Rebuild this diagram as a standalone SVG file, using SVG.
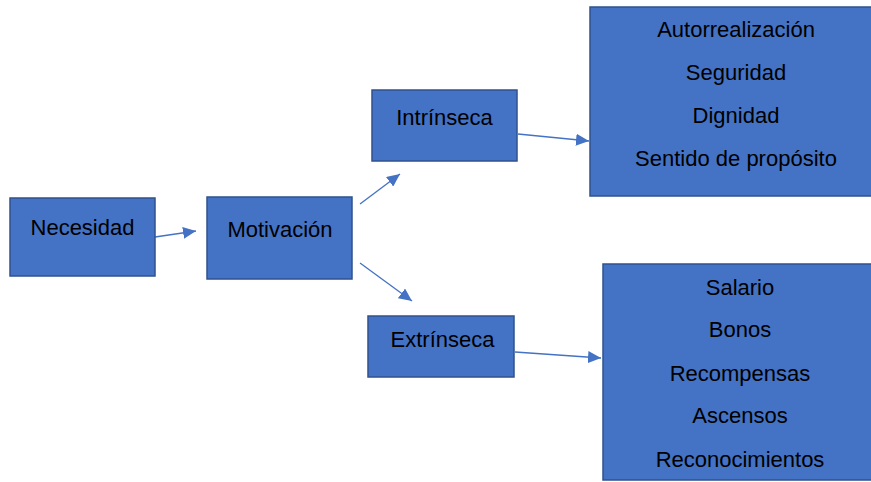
<svg xmlns="http://www.w3.org/2000/svg" width="871" height="482" viewBox="0 0 871 482">
<style>
.box{fill:#4472C4;stroke:#2F528F;stroke-width:1.5}
.t{font-family:"Liberation Sans",Arial,sans-serif;font-size:22px;fill:#000;text-anchor:middle}
.c{stroke:#4472C4;stroke-width:1.3;fill:none;marker-end:url(#ah)}
</style>
<defs>
<marker id="ah" markerUnits="userSpaceOnUse" markerWidth="14" markerHeight="12" refX="13" refY="6" orient="auto">
<path d="M0,0 L13,6 L0,12 Z" fill="#4472C4"/>
</marker>
</defs>
<rect width="871" height="482" fill="#fff"/>
<g id="connectors">
<line class="c" x1="155" y1="237" x2="196" y2="231"/>
<line class="c" x1="360" y1="204" x2="400" y2="174"/>
<line class="c" x1="360" y1="263" x2="412" y2="301"/>
<line class="c" x1="518" y1="134" x2="589" y2="141"/>
<line class="c" x1="515" y1="352" x2="601" y2="358"/>
</g>
<g id="necesidad">
<rect class="box" x="10" y="198" width="145" height="78"/>
<text class="t" x="82.5" y="235">Necesidad</text>
</g>
<g id="motivacion">
<rect class="box" x="207" y="197" width="145" height="82"/>
<text class="t" x="280" y="237">Motivación</text>
</g>
<g id="intrinseca">
<rect class="box" x="372" y="90" width="145" height="71"/>
<text class="t" x="444.5" y="125">Intrínseca</text>
</g>
<g id="extrinseca">
<rect class="box" x="368" y="316" width="146" height="61"/>
<text class="t" x="442.5" y="347">Extrínseca</text>
</g>
<g id="intrinsecas-list">
<rect class="box" x="590" y="7" width="290" height="189"/>
<text class="t" x="736" y="37">Autorrealización</text>
<text class="t" x="736" y="80">Seguridad</text>
<text class="t" x="736" y="123">Dignidad</text>
<text class="t" x="736" y="166">Sentido de propósito</text>
</g>
<g id="extrinsecas-list">
<rect class="box" x="603" y="264" width="280" height="216"/>
<text class="t" x="740" y="295">Salario</text>
<text class="t" x="740" y="337">Bonos</text>
<text class="t" x="740" y="381">Recompensas</text>
<text class="t" x="740" y="423">Ascensos</text>
<text class="t" x="740" y="467">Reconocimientos</text>
</g>
</svg>
